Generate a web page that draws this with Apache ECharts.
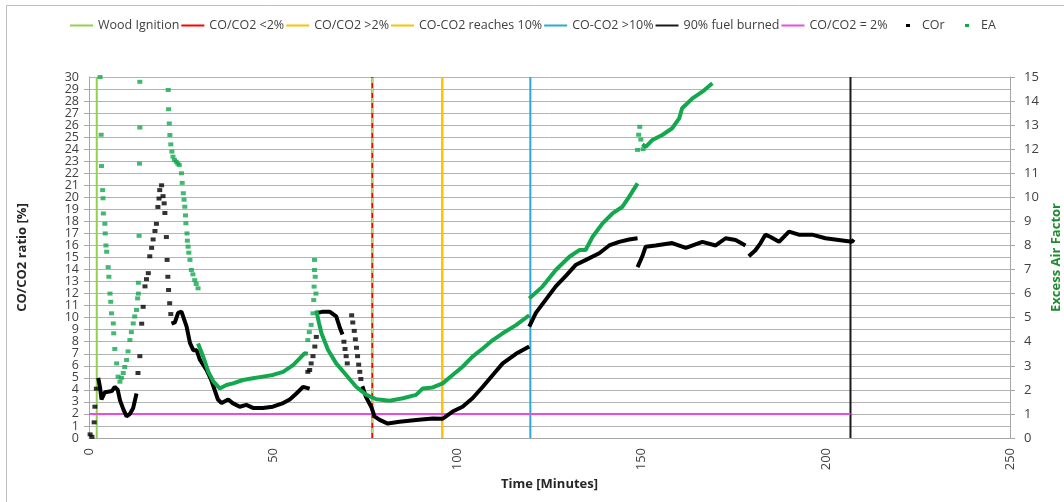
<!DOCTYPE html>
<html><head><meta charset="utf-8">
<script src="https://cdn.jsdelivr.net/npm/echarts@6/dist/echarts.min.js"></script>
<style>html,body{margin:0;padding:0;background:#fff}#chart{width:1064px;height:502px}</style>
</head><body><div id="chart"></div>
<script>
// ---------------- data ----------------
const eventNames = ['Wood Ignition', 'CO/CO2 <2%', 'CO/CO2 >2%', 'CO-CO2 reaches 10%', 'CO-CO2 >10%', '90% fuel burned'];
const eventTimes = [2.1, 76.9, 95.9, 95.9, 119.8, 206.7];
const eventColors = ['#92d050', '#ff0000', '#ffc000', '#ffc000', '#2aa9d6', '#1a1a1a'];
const thresholdName = 'CO/CO2 = 2%';
const thresholdValue = 2;
const thresholdStart = 0;
const thresholdEnd = 206.7;

// COr (left axis, %) - dense trails, null = gap
const corLineTime = [2.5,3.0,3.4,4.3,5.2,6.2,7.0,7.8,8.4,9.3,10.2,11.1,12.0,12.9, null,
  22.4,23.3,24.2,25.1,26.5,27.4,28.3,29.2,30.1,31.9,33.2,34.1,35.0,36.0,37.8,39.0,40.9,42.7,44.5,47.2,49.9,52.7,54.5,56.3,58.1,58.6,59.9, null,
  62.0,63.5,65.3,67.1,68.0,68.8, null,
  74.2,75.2,76.6,77.5,78.9,81.1,84.3,88.8,93.3,96.0,98.7,101.4,104.1,106.9,109.6,112.3,115.9,119.5, null,
  119.5,121.3,124.0,126.7,129.5,132.2,134.9,138.5,141.2,143.9,146.6,148.9, null,
  148.9,150.2,151.1,153.8,158.3,162.0,166.5,170.1,172.8,175.5,178.2, null,
  179.1,180.9,182.3,183.6,185.0,187.3,190.0,192.7,196.3,199.9,203.5,207.1,207.6];
const corLineValue = [5.0,4.2,3.2,3.8,3.85,3.9,4.25,4.0,3.15,2.4,1.8,2.0,2.5,3.7, null,
  9.5,9.6,10.4,10.5,9.25,7.9,7.3,7.3,6.5,5.65,4.8,4.0,3.2,2.9,3.2,2.9,2.6,2.75,2.5,2.5,2.6,2.9,3.2,3.7,4.25,4.3,4.1, null,
  10.4,10.5,10.5,10.1,9.25,8.6, null,
  4.3,3.4,2.6,1.8,1.5,1.2,1.35,1.5,1.63,1.6,2.2,2.6,3.3,4.26,5.24,6.2,7.0,7.6, null,
  9.25,10.4,11.5,12.6,13.5,14.4,14.8,15.35,16.0,16.3,16.5,16.6, null,
  14.2,15.1,15.9,16.0,16.2,15.8,16.3,16.0,16.6,16.45,16.0, null,
  15.1,15.6,16.2,16.9,16.7,16.3,17.15,16.9,16.9,16.6,16.45,16.3,16.5];
// COr sparse markers
const corDotTime = [0.3,0.8,1.4,1.6,2.0,
  13.3,13.8,14.3,14.7,15.2,15.6,16.1,16.5,17.0,17.4,17.9,18.3,18.7,19.0,19.2,19.7,20.1,20.4,20.6,21.0,21.2,21.4,21.6,21.9,22.2,
  59.4,59.9,60.3,60.8,61.3,61.7,
  69.2,69.5,69.8,70.1,71.3,71.6,72.0,72.3,72.6,72.9,73.2,73.5,73.8];
const corDotValue = [0.3,0.1,1.3,2.6,4.1,
  5.4,6.8,9.5,10.9,12.6,13.2,13.7,15.1,15.8,16.5,17.2,17.8,19.2,19.9,20.6,21.0,20.1,19.5,18.7,16.7,14.8,13.4,12.3,11.2,10.3,
  5.5,5.65,6.2,6.8,7.6,8.4,
  8.0,7.4,6.8,6.2,10.2,9.6,8.9,8.2,7.5,6.8,6.1,5.5,4.9];

// EA (right axis, excess air factor) - dense trails
const eaLineTime = [29.6,31.0,32.4,33.8,35.5,37.3,39.1,41.8,44.5,47.2,49.9,52.7,55.4,57.2,58.5,59.4, null,
  61.7,62.4,63.1,64.9,67.1,69.8,72.5,75.3,78.0,81.6,85.2,88.8,90.6,93.3,96.0,98.7,101.4,104.1,106.9,109.6,112.3,115.9,119.5, null,
  119.5,123.1,126.7,130.4,133.1,134.8,136.7,139.4,142.1,144.8,146.6,148.9, null,
  150.2,151.1,152.9,155.6,158.3,160.2,161.0,163.8,166.5,169.2];
const eaLineValue = [3.93,3.38,2.75,2.34,2.06,2.2,2.27,2.41,2.48,2.55,2.62,2.75,3.03,3.31,3.52,3.5, null,
  5.3,4.8,4.35,3.66,3.1,2.62,2.13,1.79,1.61,1.55,1.65,1.79,2.06,2.1,2.27,2.62,2.96,3.38,3.72,4.07,4.35,4.69,5.1, null,
  5.8,6.29,6.98,7.53,7.81,7.81,8.36,8.92,9.33,9.61,10.02,10.58, null,
  12.2,12.1,12.38,12.59,12.87,13.28,13.7,14.11,14.39,14.74];
// EA sparse markers
const eaDotTime = [3.0,3.3,3.4,
  3.7,3.8,3.9,4.3,4.4,4.6,4.8,5.2,5.4,5.7,5.9,6.1,6.6,6.7,7.0,7.5,7.9,
  8.4,8.8,9.3,9.7,10.2,10.6,11.1,11.5,12.0,12.4,12.9,13.2,13.4,
  13.4,13.6,13.7,13.8,13.8,
  21.5,21.6,21.8,21.95,22.2,22.5,22.8,23.2,23.7,24.1,24.5,25.1,25.3,25.6,25.8,26.0,26.2,26.3,26.6,26.7,26.9,27.1,27.4,27.8,28.2,28.7,29.1,29.6,
  59.4,59.8,60.3,60.8,61.0,61.1,61.2,61.2,61.4,61.6,
  148.9,149.2,149.5,149.8,150.4];
const eaDotValue = [15.0,12.6,11.3,
  10.3,9.96,9.33,8.9,8.5,8.0,7.74,7.1,6.7,6.0,5.66,5.18,4.76,4.35,3.7,3.1,2.55,
  2.34,2.5,2.7,2.95,3.24,3.6,4.07,4.4,4.76,5.05,5.32,5.8,6.0,
  6.45,8.4,11.4,12.9,14.8,
  14.46,13.66,13.07,12.59,12.2,11.9,11.69,11.55,11.48,11.4,11.34,11.0,10.6,10.17,9.9,9.61,9.25,8.92,8.5,8.2,7.95,7.7,7.4,6.98,6.8,6.56,6.4,6.22,
  4.07,4.4,4.7,5.18,5.73,6.29,6.98,7.4,6.7,6.0,
  11.97,12.6,12.93,12.4,12.0];

// ---------------- chart ----------------
const FONT = 'Open Sans';
const pairs = (ts, vs) => ts.map((t, i) => (t === null || vs[i] === null) ? ['-', '-'] : [t, vs[i]]);

const series = [];
eventNames.forEach((n, i) => {
  series.push({
    type: 'line', name: n, yAxisIndex: 0, symbol: 'none', silent: true, z: 3,
    data: [[eventTimes[i], 0], [eventTimes[i], 30]],
    lineStyle: { color: eventColors[i], width: 2 }, itemStyle: { color: eventColors[i] }
  });
});
// khaki dashes over the red line
series.push({
  type: 'line', name: 'overlay', yAxisIndex: 0, symbol: 'none', silent: true, z: 4,
  data: [[eventTimes[1], 0], [eventTimes[1], 30]],
  lineStyle: { color: '#c6cf7e', width: 2, type: [5, 5], dashOffset: 5 }
});
series.push({
  type: 'line', name: thresholdName, yAxisIndex: 0, symbol: 'none', silent: true, z: 3,
  data: [[thresholdStart, thresholdValue], [thresholdEnd, thresholdValue]],
  lineStyle: { color: '#e84ce0', width: 2 }, itemStyle: { color: '#e84ce0' }
});
series.push({
  type: 'line', name: 'COr', yAxisIndex: 0, symbol: 'none', connectNulls: false, z: 5,
  data: pairs(corLineTime, corLineValue),
  lineStyle: { color: '#000', width: 4 }, itemStyle: { color: '#000' }
});
series.push({
  type: 'scatter', name: 'COr', yAxisIndex: 0, symbol: 'rect', symbolSize: [5, 4], z: 5,
  data: pairs(corDotTime, corDotValue), itemStyle: { color: '#000' }
});
series.push({
  type: 'line', name: 'EA', yAxisIndex: 1, symbol: 'none', connectNulls: false, z: 6,
  data: pairs(eaLineTime, eaLineValue),
  lineStyle: { color: '#13a84e', width: 4 }, itemStyle: { color: '#13a84e' }
});
series.push({
  type: 'scatter', name: 'EA', yAxisIndex: 1, symbol: 'rect', symbolSize: [5, 4], z: 6,
  data: pairs(eaDotTime, eaDotValue), itemStyle: { color: '#13a84e' }
});

const labelStyle = { fontFamily: FONT, fontSize: 13, color: '#404040' };
const legendText = { fontFamily: FONT, fontSize: 12.5, color: '#404040' };
const option = {
  animation: false,
  backgroundColor: '#fff',
  textStyle: { fontFamily: FONT },
  grid: { left: 89, right: 54, top: 77, bottom: 64, containLabel: false, outerBoundsMode: 'none' },
  legend: [{
    left: 70, top: 19, padding: 0, itemWidth: 23, itemHeight: 2, itemGap: 2, icon: 'rect',
    textStyle: legendText, selectedMode: false,
    data: eventNames.concat([thresholdName])
  }, {
    left: 906, top: 19, padding: 0, itemWidth: 4, itemHeight: 3, icon: 'rect',
    textStyle: Object.assign({ padding: [0, 0, 0, 7] }, legendText), selectedMode: false,
    data: ['COr']
  }, {
    left: 965, top: 19, padding: 0, itemWidth: 4, itemHeight: 3, icon: 'rect',
    textStyle: Object.assign({ padding: [0, 0, 0, 7] }, legendText), selectedMode: false,
    data: ['EA']
  }],
  xAxis: {
    type: 'value', min: 0, max: 250, interval: 50,
    name: 'Time [Minutes]', nameLocation: 'middle', nameGap: 36,
    nameTextStyle: { fontFamily: FONT, fontSize: 13, fontWeight: 'bold', color: '#262626' },
    axisLine: { show: true, lineStyle: { color: '#a6a6a6' } },
    axisTick: { show: false },
    axisLabel: Object.assign({ rotate: 90, margin: 10, showMinLabel: true, showMaxLabel: true }, labelStyle),
    splitLine: { show: false }
  },
  yAxis: [{
    type: 'value', min: 0, max: 30, interval: 1, position: 'left',
    name: 'CO/CO2 ratio [%]', nameLocation: 'middle', nameGap: 60, nameRotate: 90,
    nameTextStyle: { fontFamily: FONT, fontSize: 13, fontWeight: 'bold', color: '#262626' },
    axisLine: { show: true, lineStyle: { color: '#a6a6a6' } },
    axisTick: { show: true, length: 5, lineStyle: { color: '#a6a6a6' } },
    axisLabel: Object.assign({ margin: 10, showMinLabel: false, showMaxLabel: false }, labelStyle, { fontSize: 12.5 }),
    splitLine: { show: true, lineStyle: { color: '#b3b3b3', width: 1 } }
  }, {
    type: 'value', min: 0, max: 15, interval: 1, position: 'right',
    name: 'Excess Air Factor', nameLocation: 'middle', nameGap: 38, nameRotate: 90,
    nameTextStyle: { fontFamily: FONT, fontSize: 13, fontWeight: 'bold', color: '#1e8c2e' },
    axisLine: { show: true, lineStyle: { color: '#a6a6a6' } },
    axisTick: { show: true, length: 5, lineStyle: { color: '#a6a6a6' } },
    axisLabel: Object.assign({ margin: 14, showMinLabel: true, showMaxLabel: true }, labelStyle),
    splitLine: { show: false }
  }, {
    // end labels (0 and 30) of the left scale
    type: 'value', min: 0, max: 30, interval: 30, position: 'left',
    axisLine: { show: false }, axisTick: { show: false }, splitLine: { show: false },
    axisLabel: Object.assign({ margin: 10, showMinLabel: true, showMaxLabel: true }, labelStyle, { fontSize: 12.5 })
  }],
  graphic: [
    { type: 'line', shape: { x1: 6.5, y1: 5.5, x2: 1064, y2: 5.5 }, style: { stroke: '#bdbdbd', lineWidth: 1 }, silent: true },
    { type: 'line', shape: { x1: 6.5, y1: 5.5, x2: 6.5, y2: 502 }, style: { stroke: '#bdbdbd', lineWidth: 1 }, silent: true }
  ],
  series: series
};
const chart = echarts.init(document.getElementById('chart'), null, { renderer: 'canvas' });
chart.setOption(option);
</script>
</body></html>
